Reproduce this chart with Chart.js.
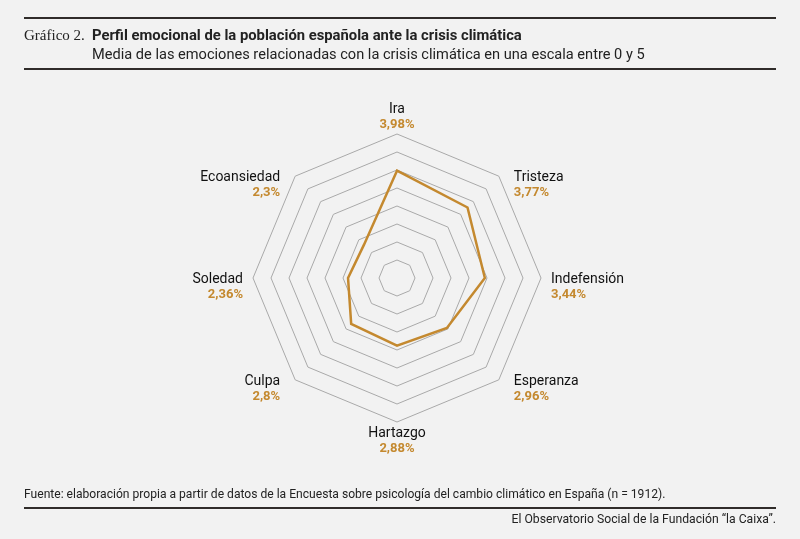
<!DOCTYPE html>
<html lang="es">
<head>
<meta charset="utf-8">
<script src="https://cdn.jsdelivr.net/npm/chart.js@4/dist/chart.umd.min.js"></script>
<style>
  html, body { margin: 0; padding: 0; background: #f2f2f2; }
  #wrap { position: relative; width: 800px; height: 539px; overflow: hidden; color: #222; }
  #graph { position: absolute; left: 0; top: 0; }
  .rule { position: absolute; left: 24px; width: 752px; height: 2px; background: #302c2a; }
  .cond { font-family: "Liberation Sans Narrow", "Roboto", sans-serif; }
  #head { position: absolute; left: 24px; top: 26px; font-size: 14.8px; line-height: 19px; white-space: nowrap; }
  #head .num { font-family: "Liberation Serif", serif; font-size: 15px; display: inline-block; width: 68px; }
  #head b { font-weight: bold; }
  #sub { position: absolute; left: 92px; top: 45px; font-size: 14.6px; white-space: nowrap; }
  #src { position: absolute; left: 24px; top: 487px; font-size: 12.1px; white-space: nowrap; }
  #org { position: absolute; right: 24px; top: 512px; font-size: 12.2px; white-space: nowrap; }
</style>
</head>
<body>
<div id="wrap">
  <canvas id="graph" width="800" height="539"></canvas>
  <div class="rule" style="top:17px"></div>
  <div id="head" class="cond"><span class="num">Gráfico 2.</span><b>Perfil emocional de la población española ante la crisis climática</b></div>
  <div id="sub" class="cond">Media de las emociones relacionadas con la crisis climática en una escala entre 0 y 5</div>
  <div class="rule" style="top:68px"></div>
  <div id="src" class="cond">Fuente: elaboración propia a partir de datos de la Encuesta sobre psicología del cambio climático en España (n = 1912).</div>
  <div class="rule" style="top:507px"></div>
  <div id="org" class="cond">El Observatorio Social de la Fundación “la Caixa”.</div>
</div>
<script>
const emotions = ['Ira', 'Tristeza', 'Indefensión', 'Esperanza', 'Hartazgo', 'Culpa', 'Soledad', 'Ecoansiedad'];
const averages = [3.98, 3.77, 3.44, 2.96, 2.88, 2.8, 2.36, 2.3];
const scaleMin = 1;
const scaleMax = 5;
const scaleStep = 0.5;

const gold = '#c4892f';

// name + value drawn outside every vertex of the outer ring
const axisLabels = {
  id: 'axisLabels',
  afterDraw(chart) {
    const scale = chart.scales.r;
    const ctx = chart.ctx;
    const r = scale.drawingArea;
    ctx.save();
    emotions.forEach((name, i) => {
      const p = scale.getPointPosition(i, r);
      const dx = p.x - scale.xCenter;
      const dy = p.y - scale.yCenter;
      let x = p.x, yName, yVal, align;
      if (Math.abs(dx) < 1) {
        align = 'center';
        if (dy < 0) { yName = p.y - 21; yVal = p.y - 6; }
        else { yName = p.y + 15; yVal = p.y + 30; }
      } else {
        align = dx > 0 ? 'left' : 'right';
        const gap = Math.abs(dy) < 1 ? 10 : 15;
        x = p.x + (dx > 0 ? gap : -gap);
        yName = p.y + 5;
        yVal = p.y + 20;
      }
      ctx.textAlign = align;
      ctx.textBaseline = 'alphabetic';
      ctx.fillStyle = '#111';
      ctx.font = '14px Roboto, sans-serif';
      ctx.fillText(name, x, yName);
      ctx.fillStyle = gold;
      ctx.font = 'bold 13px Roboto, sans-serif';
      ctx.fillText(String(averages[i]).replace('.', ',') + '%', x, yVal);
    });
    ctx.restore();
  }
};

const config = {
  type: 'radar',
  data: {
    labels: emotions,
    datasets: [
      {
        label: 'Media',
        data: averages,
        borderColor: gold,
        backgroundColor: gold,
        borderWidth: 2.5,
        fill: false,
        pointRadius: 0,
        tension: 0
      }
    ]
  },
  options: {
    responsive: false,
    animation: false,
    layout: { padding: { left: 253, right: 259, top: 134, bottom: 117 } },
    plugins: { legend: { display: false }, tooltip: { enabled: false } },
    scales: {
      r: {
        min: scaleMin,
        max: scaleMax,
        ticks: { display: false, stepSize: scaleStep },
        pointLabels: { display: false },
        angleLines: { display: false },
        grid: { color: '#a9a9a9', lineWidth: 1 }
      }
    }
  },
  plugins: [axisLabels]
};

new Chart(document.getElementById('graph').getContext('2d'), config);
</script>
</body>
</html>
